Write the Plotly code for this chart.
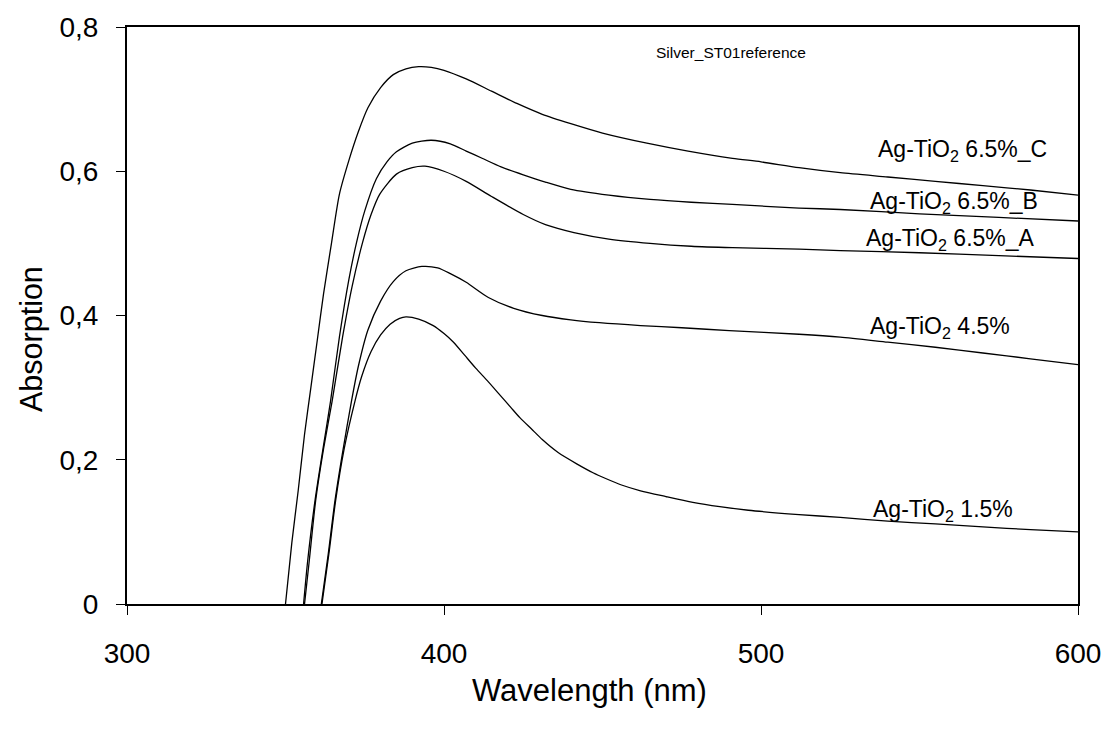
import plotly.graph_objects as go

# ---------------- data ----------------
wl_C = [350, 352, 354, 356, 358, 360, 362, 364.5, 367, 370, 373, 376, 380, 384, 388, 392, 396, 400, 407, 415,
        423, 431, 440, 450, 464, 477, 491, 500, 512, 525, 540, 555, 570, 585, 600]
abs_C = [0, 0.085, 0.157, 0.235, 0.30, 0.365, 0.43, 0.50, 0.568, 0.615, 0.655, 0.688, 0.716, 0.734, 0.742, 0.745,
         0.744, 0.74, 0.728, 0.711, 0.694, 0.679, 0.666, 0.653, 0.639, 0.628, 0.618, 0.613, 0.605, 0.598, 0.592,
         0.586, 0.58, 0.574, 0.567]

wl_B = [355.7, 357, 359.3, 362, 364.2, 367, 370, 372.4, 375, 378.7, 382, 385, 390, 396, 402, 407, 412, 418, 425,
        432, 440, 452, 465, 478, 491, 512, 525, 550, 575, 600]
abs_B = [0, 0.06, 0.143, 0.22, 0.281, 0.37, 0.45, 0.501, 0.545, 0.59, 0.613, 0.627, 0.639, 0.643, 0.638, 0.628,
         0.618, 0.606, 0.595, 0.585, 0.575, 0.567, 0.561, 0.557, 0.554, 0.549, 0.547, 0.541, 0.536, 0.531]

wl_A = [356, 357.5, 359.5, 362, 364.7, 368, 371, 374.3, 377, 379.7, 385, 390, 394, 400, 407, 415, 425, 432, 441,
        452, 465, 478, 491, 512, 525, 550, 575, 600]
abs_A = [0, 0.06, 0.143, 0.215, 0.281, 0.37, 0.44, 0.501, 0.54, 0.568, 0.596, 0.605, 0.607, 0.6, 0.586, 0.565,
         0.54, 0.526, 0.515, 0.506, 0.5, 0.496, 0.494, 0.492, 0.49, 0.487, 0.483, 0.479]

wl_45 = [361.3, 363.5, 365.6, 368, 370.8, 373, 376, 380, 384, 388, 393, 398, 402, 407, 414, 422, 431, 440, 449,
         462, 475, 490, 512, 525, 540, 555, 570, 585, 600]
abs_45 = [0, 0.07, 0.143, 0.21, 0.281, 0.33, 0.38, 0.42, 0.447, 0.462, 0.468, 0.466, 0.458, 0.446, 0.425, 0.41,
          0.4, 0.394, 0.39, 0.386, 0.383, 0.379, 0.374, 0.37, 0.363, 0.356, 0.348, 0.34, 0.332]

wl_15 = [361.5, 363.7, 365.8, 368.5, 371.9, 374, 377, 380, 383, 386, 388, 392, 396.6, 400, 403, 406.5, 410, 414,
         417.6, 421, 424, 428, 431, 436, 442, 447, 451, 456, 462, 470, 478.5, 487, 496, 512, 525, 540, 555, 570,
         585, 600]
abs_15 = [0, 0.07, 0.143, 0.215, 0.281, 0.315, 0.35, 0.373, 0.388, 0.396, 0.398, 0.395, 0.386, 0.375, 0.363,
          0.345, 0.327, 0.308, 0.29, 0.273, 0.258, 0.241, 0.228, 0.21, 0.194, 0.182, 0.174, 0.165, 0.157, 0.149,
          0.141, 0.135, 0.13, 0.124, 0.12, 0.115, 0.111, 0.107, 0.103, 0.10]

series_names = ["Ag-TiO<sub>2</sub> 6.5%_C", "Ag-TiO<sub>2</sub> 6.5%_B", "Ag-TiO<sub>2</sub> 6.5%_A",
                "Ag-TiO<sub>2</sub> 4.5%", "Ag-TiO<sub>2</sub> 1.5%"]
x_tick_vals = [300, 400, 500, 600]
x_tick_text = ["300", "400", "500", "600"]
y_tick_vals = [0, 0.2, 0.4, 0.6, 0.8]
y_tick_text = ["0", "0,2", "0,4", "0,6", "0,8"]
title_text = "Silver_ST01reference"
x_title = "Wavelength (nm)"
y_title = "Absorption"

FONT = "Liberation Sans, Arial, sans-serif"

fig = go.Figure()
for wl, ab, nm in [(wl_C, abs_C, series_names[0]), (wl_B, abs_B, series_names[1]), (wl_A, abs_A, series_names[2]),
                   (wl_45, abs_45, series_names[3]), (wl_15, abs_15, series_names[4])]:
    fig.add_trace(go.Scatter(x=wl, y=ab, mode="lines", name=nm,
                             line=dict(color="black", width=1.3, shape="spline", smoothing=0.7)))

# curve labels (left-anchored)
label_pos = [(536.4, 0.629), (533.8, 0.556), (532.6, 0.505), (533.8, 0.384), (534.8, 0.129)]
for (lx, ly), txt in zip(label_pos, series_names):
    fig.add_annotation(x=lx, y=ly, xref="x", yref="y", text=txt, showarrow=False,
                       xanchor="left", yanchor="middle",
                       font=dict(family=FONT, size=23, color="black"))

fig.add_annotation(x=466.4, y=0.764, xref="x", yref="y", text=title_text, showarrow=False,
                   xanchor="left", yanchor="middle", font=dict(family=FONT, size=15.5, color="black"))

# axis titles as paper-anchored annotations
fig.add_annotation(x=(590 - 127) / (1079 - 127), y=(604 - 691) / (604 - 24), xref="paper", yref="paper",
                   text=x_title, showarrow=False,
                   xanchor="center", yanchor="middle", font=dict(family=FONT, size=31, color="black"))
fig.add_annotation(x=(32 - 127) / (1079 - 127), y=(604 - 337.5) / (604 - 24), xref="paper", yref="paper",
                   text=y_title, showarrow=False, textangle=-90,
                   xanchor="center", yanchor="middle", font=dict(family=FONT, size=30.5, color="black"))

fig.update_layout(
    width=1113, height=743,
    margin=dict(l=127, r=34, t=24, b=139, pad=0),
    paper_bgcolor="white", plot_bgcolor="white",
    showlegend=False,
    font=dict(family=FONT, color="black"),
    xaxis=dict(range=[300, 600], tickvals=x_tick_vals, ticktext=x_tick_text,
               showgrid=False, zeroline=False, showline=True, linecolor="black", linewidth=2, mirror=True,
               ticks="outside", ticklen=9, tickwidth=1, tickcolor="black", ticklabelstandoff=14,
               tickfont=dict(family=FONT, size=28, color="black")),
    yaxis=dict(range=[0, 0.8], tickvals=y_tick_vals, ticktext=y_tick_text,
               showgrid=False, zeroline=False, showline=True, linecolor="black", linewidth=2, mirror=True,
               ticks="outside", ticklen=9, tickwidth=1, tickcolor="black", ticklabelstandoff=12,
               tickfont=dict(family=FONT, size=28, color="black")),
)

fig.write_html("out.html")
